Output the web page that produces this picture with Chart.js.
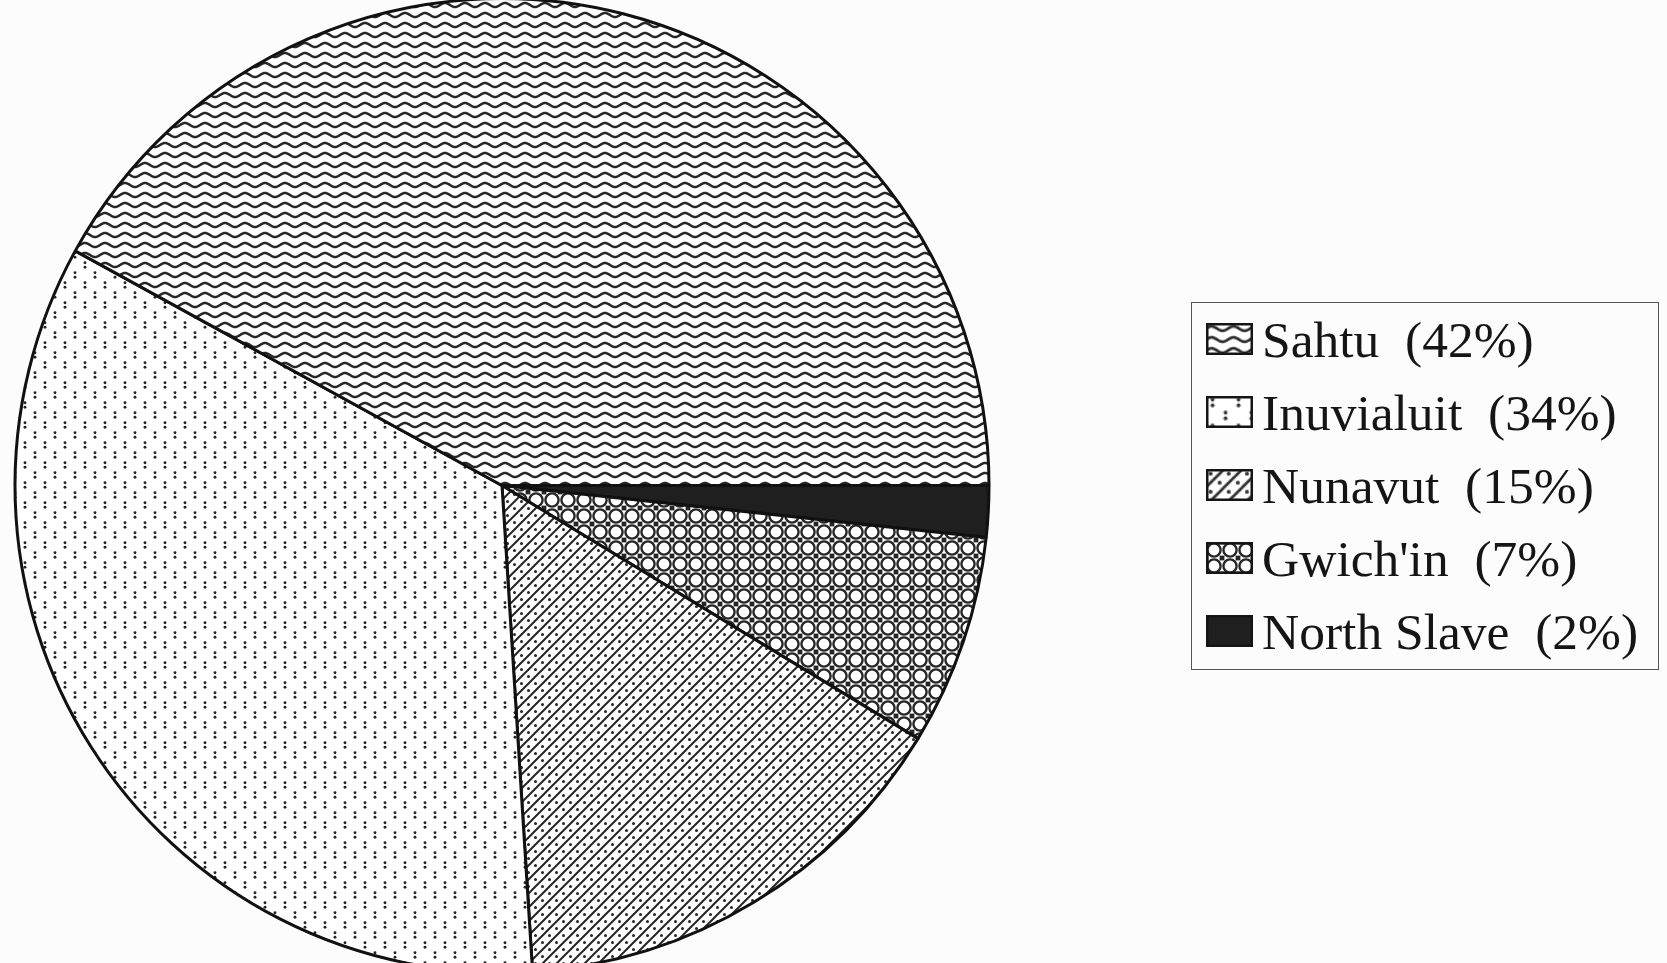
<!DOCTYPE html>
<html>
<head>
<meta charset="utf-8">
<script src="https://cdn.jsdelivr.net/npm/chart.js@4/dist/chart.umd.min.js"></script>
<style>
  html, body { margin:0; padding:0; background:#fcfcfc; width:1667px; height:963px; overflow:hidden; }
  #wrap { position:absolute; left:0; top:-20px; width:1667px; height:1000px; }
  #legend { position:absolute; left:1191px; top:302px; width:468px; height:368px; border:1.5px solid #555; box-sizing:border-box; }
  .row { position:absolute; left:0; height:50px; width:100%; }
  .row canvas { position:absolute; left:14px; }
  .row span { position:absolute; left:70px; font-family:"Liberation Serif","Times New Roman",serif; font-size:51.5px; line-height:52px; color:#151515; white-space:pre; }
</style>
</head>
<body>
<div id="wrap"><canvas id="c"></canvas></div>
<div id="legend"></div>
<script>
// Data (legend order)
const categories = ["Sahtu", "Inuvialuit", "Nunavut", "Gwich'in", "North Slave"];
const values = [42.0, 34.0, 15.3, 7.0, 1.7];
const percentLabels = ["42%", "34%", "15%", "7%", "2%"];

function makeTile(w, h, draw) {
  const c = document.createElement('canvas');
  c.width = w; c.height = h;
  const g = c.getContext('2d');
  g.fillStyle = '#ffffff';
  g.fillRect(0, 0, w, h);
  draw(g, w, h);
  return c;
}
const ink = '#262626';
const tiles = {
  "Sahtu": makeTile(20, 10, (g) => {
    g.strokeStyle = ink; g.lineWidth = 2.5;
    g.beginPath();
    for (let x = -2; x <= 22; x += 0.5) {
      const y = 5 - 2 * Math.sin(2 * Math.PI * x / 20);
      if (x === -2) g.moveTo(x, y); else g.lineTo(x, y);
    }
    g.stroke();
  }),
  "Inuvialuit": makeTile(20, 20, (g) => {
    g.fillStyle = ink;
    [[5,5],[15,15]].forEach(([x,y]) => {
      [y-2.2, y+2.2].forEach(yy => { g.beginPath(); g.arc(x, yy, 1.45, 0, Math.PI*2); g.fill(); });
    });
  }),
  "Nunavut": makeTile(14, 14, (g) => {
    g.strokeStyle = ink; g.lineWidth = 2;
    [[-2,2,2,-2],[-2,16,16,-2],[12,16,16,12]].forEach(([a,b,c2,d]) => { g.beginPath(); g.moveTo(a,b); g.lineTo(c2,d); g.stroke(); });
    g.fillStyle = ink;
    [[3.5,3.5],[10.5,10.5]].forEach(([x,y]) => { g.beginPath(); g.arc(x, y, 1.5, 0, Math.PI*2); g.fill(); });
  }),
  "Gwich'in": makeTile(16, 16, (g) => {
    g.strokeStyle = ink; g.lineWidth = 2.4;
    g.beginPath(); g.arc(8, 8, 6.6, 0, Math.PI*2); g.stroke();
    g.fillStyle = ink;
    [[0,0],[16,0],[0,16],[16,16]].forEach(([x,y]) => g.fillRect(x-2.4, y-2.4, 4.8, 4.8));
  }),
  "North Slave": makeTile(4, 4, (g) => { g.fillStyle = '#1f1f1f'; g.fillRect(0,0,4,4); })
};
const swatchScale = { "Sahtu": 1.1, "Inuvialuit": 1.3, "Nunavut": 1.3, "Gwich'in": 1.0, "North Slave": 1 };

const ctx = document.getElementById('c').getContext('2d');
const patterns = categories.map(n => ctx.createPattern(tiles[n], 'repeat'));

// Chart.js draws clockwise from 3 o'clock; reverse so North Slave sits just below the horizontal
const order = categories.map((_, i) => i).reverse();

new Chart(ctx, {
  type: 'pie',
  data: {
    labels: order.map(i => categories[i]),
    datasets: [{
      data: order.map(i => values[i]),
      backgroundColor: order.map(i => patterns[i]),
      borderColor: '#111111',
      borderWidth: 3
    }]
  },
  options: {
    responsive: true,
    maintainAspectRatio: false,
    animation: false,
    rotation: 90,
    layout: { padding: { left: 13, top: 17, right: 676, bottom: 6 } },
    plugins: { legend: { display: false }, tooltip: { enabled: false } }
  }
});

// HTML legend
const legend = document.getElementById('legend');
const rowTops = [20, 93, 166, 239, 312];
categories.forEach((name, i) => {
  const row = document.createElement('div');
  row.className = 'row';
  row.style.top = rowTops[i] + 'px';
  const sw = document.createElement('canvas');
  sw.width = 47; sw.height = 32;
  sw.style.top = '0px';
  const g = sw.getContext('2d');
  g.save();
  g.scale(swatchScale[name], swatchScale[name]);
  g.fillStyle = g.createPattern(tiles[name], 'repeat');
  g.fillRect(0, 0, 60, 40);
  g.restore();
  g.strokeStyle = '#151515'; g.lineWidth = 2.5;
  g.strokeRect(1.25, 1.25, 44.5, 29.5);
  row.appendChild(sw);
  const sp = document.createElement('span');
  sp.textContent = name + '  (' + percentLabels[i] + ')';
  sp.style.top = '-9px';
  row.appendChild(sp);
  legend.appendChild(row);
});
</script>
</body>
</html>
